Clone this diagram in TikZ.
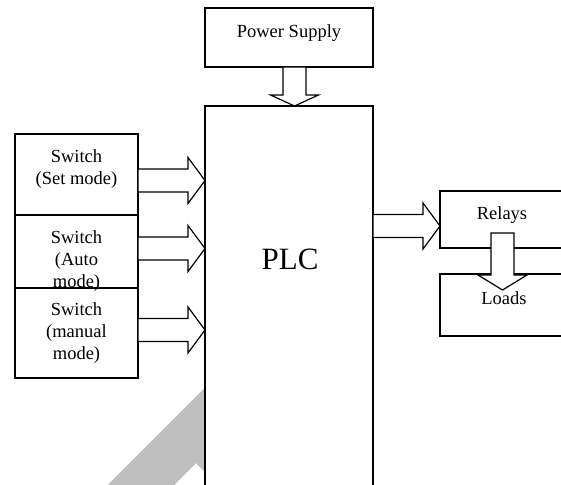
\documentclass[tikz,border=0pt]{standalone}
\usepackage{fontspec}
\setmainfont{Liberation Serif}
\usetikzlibrary{calc}
\tikzset{
  box/.style={draw=black, line width=1.2pt, fill=white, inner sep=0pt, outer sep=0pt, anchor=center},
  lbl/.style={inner sep=0pt, outer sep=0pt, align=center, font=\fontsize{18.5}{22}\selectfont},
  arrowbody/.style={draw=black, line width=1.2pt, fill=white, line join=miter},
  wmark/.style={fill=black!25, draw=none}
}
\newcommand\fatarrow[5]{%
  \coordinate (fah) at ($(#2)!#5!(#1)$);
  \draw[arrowbody] ($(#1)!#3!90:(#2)$) -- ($(fah)!#3!90:(#2)$) -- ($(fah)!#4!90:(#2)$) -- (#2)
    -- ($(fah)!#4!-90:(#2)$) -- ($(fah)!#3!-90:(#2)$) -- ($(#1)!#3!-90:(#2)$) -- cycle;
}
\begin{document}
\begin{tikzpicture}[x=1pt, y=-1pt]
\useasboundingbox (0,0) rectangle (561,484);
\clip (0,0) rectangle (561,484);
\fill[white] (0,0) rectangle (561,484);
% watermark fragment
\path[wmark] (205,387.5) -- (108.5,484) -- (108,500) -- (175,500) -- (175,484) -- (196,463) -- (205,472) -- cycle;
% PLC box (open past the bottom)
\node[box, minimum width=168pt, minimum height=420pt, anchor=north] (plc) at (289,106) {};
\node[lbl, font=\fontsize{31}{36}\selectfont] (plct) at (290,259) {PLC};
% power supply
\node[box, minimum width=168pt, minimum height=59pt] (ps) at (289,37.5) {};
\node[lbl] (pst) at (289,33.5) {Power Supply};
% switches
\node[box, minimum width=123pt, minimum height=81pt] (sw1) at (76.5,174.5) {};
\node[box, minimum width=123pt, minimum height=73pt] (sw2) at (76.5,251.5) {};
\node[box, minimum width=123pt, minimum height=90pt] (sw3) at (76.5,333) {};
\node[lbl] (sw1t) at (76.5,169) {Switch\\(Set mode)};
\node[lbl] (sw2t) at (76.5,261) {Switch\\(Auto\\mode)};
\node[lbl] (sw3t) at (76.5,333) {Switch\\(manual\\mode)};
% relays and loads (open past the right edge)
\node[box, minimum width=160pt, minimum height=57pt] (rel) at (520,219.5) {};
\node[box, minimum width=160pt, minimum height=62pt] (lds) at (520,305) {};
\node[lbl] (relt) at (502,215.5) {Relays};
% arrows
\coordinate (pa) at ($(ps.south)+(5.5,0)$);
\coordinate (pb) at (plc.north -| pa);
\fatarrow{pa}{pb}{11.5pt}{24pt}{11pt}
\coordinate (s1a) at (138,180.5); \coordinate (s1b) at (plc.west |- s1a);
\coordinate (s2a) at (138,248.5); \coordinate (s2b) at (plc.west |- s2a);
\coordinate (s3a) at (138,330);   \coordinate (s3b) at (plc.west |- s3a);
\fatarrow{s1a}{s1b}{11.5pt}{23pt}{17pt}
\fatarrow{s2a}{s2b}{11.5pt}{23pt}{17pt}
\fatarrow{s3a}{s3b}{11.5pt}{23pt}{17pt}
\coordinate (ra) at (373,226); \coordinate (rb) at (rel.west |- ra);
\fatarrow{ra}{rb}{11.5pt}{23pt}{17pt}
\coordinate (la) at (502.5,233); \coordinate (lb) at (502.5,290);
\fatarrow{la}{lb}{11.5pt}{24.5pt}{15pt}
\node[lbl] (ldst) at (504,298.5) {Loads};
\end{tikzpicture}
\end{document}
